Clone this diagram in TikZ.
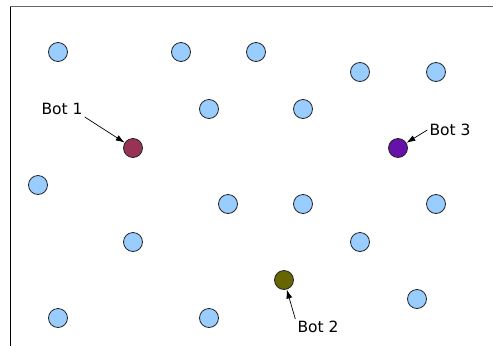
\documentclass[tikz,border=0pt]{standalone}
\usepackage{fontspec}
\setmainfont{DejaVu Sans}
\usepackage{tikz}
\usetikzlibrary{arrows.meta}
\definecolor{botblue}{RGB}{153,204,255}
\definecolor{botred}{RGB}{153,51,85}
\definecolor{botviolet}{RGB}{102,17,170}
\definecolor{botolive}{RGB}{102,102,0}

\begin{document}
\begin{tikzpicture}[
    x=1pt, y=-1pt,
    >={Latex[length=9pt,width=6pt]},
    bot/.style={circle, draw=black!85, line width=0.8pt, fill=botblue, minimum size=19pt, inner sep=0pt},
    lbl/.style={font=\fontsize{15.5}{18}\selectfont, inner sep=2pt}
  ]
    \useasboundingbox (0,0) rectangle (493,346);
    \draw[line width=1pt] (10,346) -- (10,6.5);
    \draw[line width=1pt, black!60] (10,6.5) -- (493,6.5);

    % idle bots
    \node[bot] (a1) at (58,52) {};
    \node[bot] (a2) at (181,52) {};
    \node[bot] (a3) at (256,52) {};
    \node[bot] (a4) at (360,72) {};
    \node[bot] (a5) at (436,72) {};
    \node[bot] (a6) at (209,109) {};
    \node[bot] (a7) at (303,109) {};
    \node[bot] (a8) at (38,185) {};
    \node[bot] (a9) at (228,204) {};
    \node[bot] (a10) at (303,204) {};
    \node[bot] (a11) at (436,204) {};
    \node[bot] (a12) at (133,242) {};
    \node[bot] (a13) at (360,242) {};
    \node[bot] (a14) at (417,299) {};
    \node[bot] (a15) at (58,318) {};
    \node[bot] (a16) at (209,318) {};

    % marked bots
    \node[bot, fill=botred] (bot1) at (133,148) {};
    \node[bot, fill=botolive] (bot2) at (284,280) {};
    \node[bot, fill=botviolet] (bot3) at (398,148) {};

    \node[lbl] (lbl1) at (62,109) {Bot 1};
    \node[lbl] (lbl2) at (318,327) {Bot 2};
    \node[lbl] (lbl3) at (450,130) {Bot 3};

    \draw[->, line width=0.7pt] (lbl1.south east) -- (bot1);
    \draw[->, line width=0.7pt] (lbl2.north west) -- (bot2);
    \draw[->, line width=0.7pt] (lbl3.west) -- (bot3);
  \end{tikzpicture}
\end{document}
